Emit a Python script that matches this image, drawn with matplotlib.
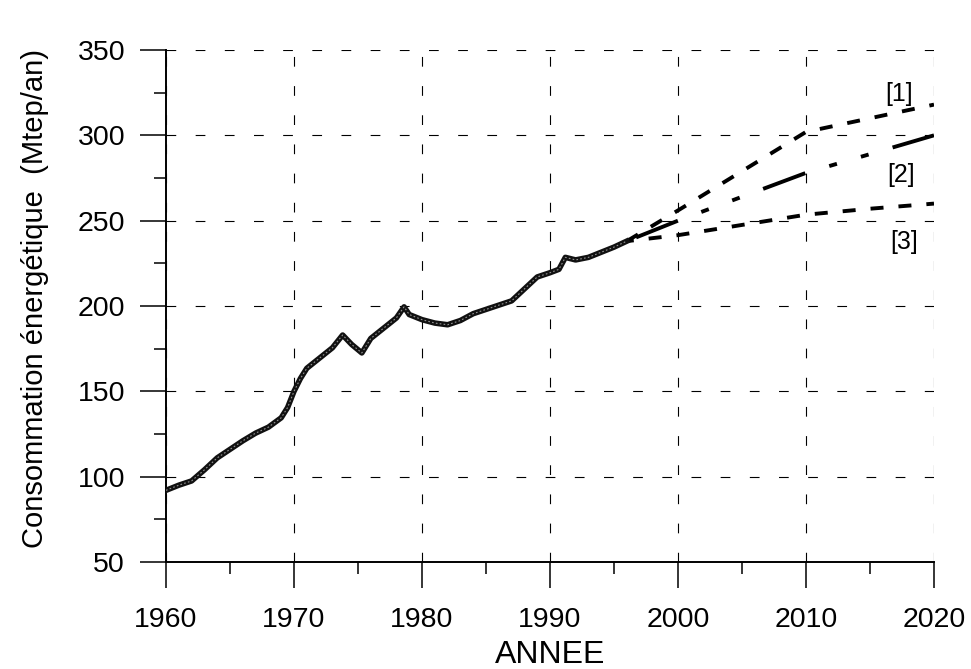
import matplotlib
matplotlib.use("Agg")
import matplotlib.pyplot as plt
from matplotlib.ticker import MultipleLocator

plt.rcParams['font.family'] = ['Liberation Sans', 'DejaVu Sans']
plt.rcParams['lines.scale_dashes'] = False

# Historical consumption (Mtep/an)
hist_years = [1960, 1961, 1962, 1963, 1964, 1965, 1966, 1967, 1968, 1969, 1969.5,
              1970, 1970.5, 1971, 1972, 1973, 1973.8, 1974.5, 1975.3, 1976, 1977,
              1978, 1978.6, 1979, 1980, 1981, 1982, 1983, 1984, 1985, 1986, 1987,
              1988, 1989, 1990, 1990.7, 1991.2, 1992, 1993, 1994, 1995, 1996]
hist_values = [92, 95, 97.5, 104, 111, 116, 121, 125.5, 129, 134.5, 140.5,
               150, 157.5, 163.5, 169.5, 175.5, 183, 177.5, 172.5, 181, 187,
               193, 199.5, 195, 192, 190, 189, 191.5, 195.5, 198, 200.5, 203,
               210, 217, 219.5, 221.5, 228.5, 227, 228.5, 231.5, 234.5, 238]

# Scenarios
s1_years = [1996, 2000, 2005, 2010, 2015, 2020]
s1_values = [238, 256, 279, 302, 310, 318]
s2_years = [1996, 2000, 2010, 2020]
s2_values = [238, 250, 278, 300]
s3_years = [1996, 2000, 2005, 2010, 2015, 2020]
s3_values = [238, 241.5, 247.5, 253.5, 257, 260]

scenario_labels = ['[1]', '[2]', '[3]']
label_pos_x = [2017.3, 2017.4, 2017.7]
label_pos_y = [324, 277, 237.5]

x_ticks = [1960, 1970, 1980, 1990, 2000, 2010, 2020]
y_ticks = [50, 100, 150, 200, 250, 300, 350]

fig = plt.figure(figsize=(9.71, 6.69), dpi=100)
ax = fig.add_axes([166/971, 1-562/669, (934-166)/971, (562-50)/669])
ax.set_xlim(1960, 2020)
ax.set_ylim(50, 350)

ax.set_xticks(x_ticks)
ax.set_yticks(y_ticks)
ax.xaxis.set_minor_locator(MultipleLocator(5))
ax.yaxis.set_minor_locator(MultipleLocator(25))

ax.grid(True, which='major', color='black', linewidth=0.8,
        linestyle=(0, (7, 14)))
ax.set_axisbelow(True)

for sp in ['top', 'right']:
    ax.spines[sp].set_visible(False)
for sp in ['left', 'bottom']:
    ax.spines[sp].set_linewidth(1.4)

ax.tick_params(which='major', direction='out', length=18.5, width=1.1,
               labelsize=20.5)
ax.tick_params(which='minor', direction='out', length=8.5, width=1.1)
ax.tick_params(axis='x', which='major', pad=14)
ax.tick_params(axis='y', which='major', pad=11)

# historical curve (chain of small circles look)
ax.plot(hist_years, hist_values, color='#111111', linewidth=4.0,
        solid_joinstyle='round', zorder=5)
ax.plot(hist_years, hist_values, color='white', linewidth=0.8,
        linestyle=(0, (1.2, 1.6)), alpha=0.55, zorder=6)

p = 0.72  # px -> pt
ax.plot(s1_years, s1_values, color='black', linewidth=2.8,
        linestyle=(0, (13*p, 15*p)), zorder=4)
ax.plot(s2_years, s2_values, color='black', linewidth=2.8,
        linestyle=(126*p, (45*p, 25*p, 8*p, 25*p, 8*p, 25*p)), zorder=4)
ax.plot(s3_years, s3_values, color='black', linewidth=2.8,
        linestyle=(6*p, (13*p, 15*p)), zorder=4)

for lab, lx, ly in zip(scenario_labels, label_pos_x, label_pos_y):
    ax.text(lx, ly, lab, fontsize=18, ha='center', va='center', zorder=7)

fig.text(35/971, 1-299/669, 'Consommation énergétique  (Mtep/an)',
         rotation=90, ha='center', va='center', fontsize=21)
fig.text(550/971, 1-655/669, 'ANNEE', ha='center', va='center', fontsize=23)

fig.savefig('out.png', dpi=100)
